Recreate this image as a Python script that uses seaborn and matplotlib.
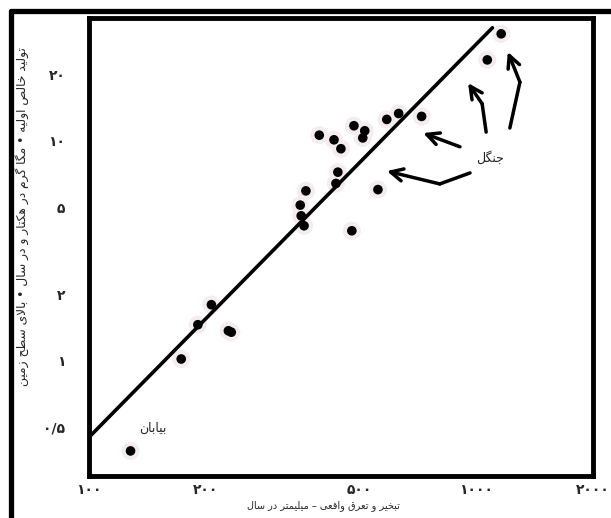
import numpy as np
import pandas as pd
import seaborn as sns
import matplotlib.pyplot as plt
from matplotlib.lines import Line2D
from matplotlib.ticker import NullFormatter

# --- data (log-log) ---
et_mm = [128, 173, 191, 207, 229, 233, 351, 353, 359, 363, 393, 429, 447, 483,
         515, 509, 587, 630, 722, 439, 434, 557, 477, 1067, 1159]
npp = [0.39, 1.02, 1.46, 1.80, 1.37, 1.35, 5.1, 4.56, 4.11, 5.92, 10.6, 10.1, 9.2,
       11.7, 11.1, 10.3, 12.5, 13.3, 12.9, 7.2, 6.4, 6.0, 3.9, 23.3, 30.6]
fit_x = [100, 1100]
fit_y = [0.45, 32.6]

x_ticks = [100, 200, 500, 1000, 2000]
x_labels = ['۱۰۰', '۲۰۰', '۵۰۰', '۱۰۰۰', '۲۰۰۰']
y_ticks = [0.5, 1, 2, 5, 10, 20]
y_labels = ['۰/۵', '۱', '۲', '۵', '۱۰', '۲۰']

x_title = 'تبخیر و تعرق واقعی – میلیمتر در سال'
y_title = 'تولید خالص اولیه • مگا گرم در هکتار و در سال • بالای سطح زمین'
forest_label = 'جنگل'
desert_label = 'بیابان'

# matplotlib has no arabic shaping, so do it by hand with presentation forms
FORMS = {
    'ا': ('\uFE8D', '\uFE8E', None, None),
    'ب': ('\uFE8F', '\uFE90', '\uFE91', '\uFE92'),
    'ت': ('\uFE95', '\uFE96', '\uFE97', '\uFE98'),
    'ج': ('\uFE9D', '\uFE9E', '\uFE9F', '\uFEA0'),
    'ح': ('\uFEA1', '\uFEA2', '\uFEA3', '\uFEA4'),
    'خ': ('\uFEA5', '\uFEA6', '\uFEA7', '\uFEA8'),
    'د': ('\uFEA9', '\uFEAA', None, None),
    'ر': ('\uFEAD', '\uFEAE', None, None),
    'ز': ('\uFEAF', '\uFEB0', None, None),
    'س': ('\uFEB1', '\uFEB2', '\uFEB3', '\uFEB4'),
    'ص': ('\uFEB9', '\uFEBA', '\uFEBB', '\uFEBC'),
    'ط': ('\uFEC1', '\uFEC2', '\uFEC3', '\uFEC4'),
    'ع': ('\uFEC9', '\uFECA', '\uFECB', '\uFECC'),
    'ق': ('\uFED5', '\uFED6', '\uFED7', '\uFED8'),
    'ک': ('\uFB8E', '\uFB8F', '\uFB90', '\uFB91'),
    'گ': ('\uFB92', '\uFB93', '\uFB94', '\uFB95'),
    'ل': ('\uFEDD', '\uFEDE', '\uFEDF', '\uFEE0'),
    'م': ('\uFEE1', '\uFEE2', '\uFEE3', '\uFEE4'),
    'ن': ('\uFEE5', '\uFEE6', '\uFEE7', '\uFEE8'),
    'ه': ('\uFEE9', '\uFEEA', '\uFEEB', '\uFEEC'),
    'و': ('\uFEED', '\uFEEE', None, None),
    'ی': ('\uFBFC', '\uFBFD', '\uFBFE', '\uFBFF'),
}


def shape(text):
    out = []
    i = 0
    n = len(text)
    while i < n:
        c = text[i]
        if c not in FORMS:
            out.append(c)
            i += 1
            continue
        prev = text[i - 1] if i > 0 else ''
        joins_prev = prev in FORMS and FORMS[prev][2] is not None
        if c == 'ل' and i + 1 < n and text[i + 1] == 'ا':
            out.append('\uFEFC' if joins_prev else '\uFEFB')
            i += 2
            continue
        nxt = text[i + 1] if i + 1 < n else ''
        joins_next = nxt in FORMS and FORMS[c][2] is not None
        iso, fin, ini, med = FORMS[c]
        if joins_prev and joins_next:
            out.append(med)
        elif joins_prev:
            out.append(fin)
        elif joins_next:
            out.append(ini)
        else:
            out.append(iso)
        i += 1
    return ''.join(reversed(out))


sns.set_style('white')
plt.rcParams['font.family'] = ['DejaVu Sans']

W, H = 611, 518
fig = plt.figure(figsize=(W / 100, H / 100), dpi=100)
ax = fig.add_axes([89 / W, 1 - 476 / H, (593 - 89) / W, (476 - 17.5) / H])

df = pd.DataFrame({'et': et_mm, 'npp': npp})
sns.scatterplot(data=df, x='et', y='npp', s=170, color='#f5ecf0', edgecolor='none',
                ax=ax, zorder=2)
sns.scatterplot(data=df, x='et', y='npp', s=48, color='black', edgecolor='none',
                ax=ax, zorder=4)
sns.lineplot(x=fit_x, y=fit_y, color='black', lw=2.6, ax=ax, zorder=3)

ax.set_xscale('log')
ax.set_yscale('log')
ax.set_xlim(100, 2000)
ax.set_ylim(0.30, 36.3)
ax.set_xticks(x_ticks, x_labels)
ax.set_yticks(y_ticks, y_labels)
ax.xaxis.set_minor_formatter(NullFormatter())
ax.yaxis.set_minor_formatter(NullFormatter())
ax.tick_params(axis='x', which='both', direction='in', color='#cfcfcf', width=2,
               length=6, pad=5, labelsize=10)
ax.tick_params(axis='y', which='both', direction='in', color='#e0cbd4', width=2,
               length=6, pad=17, labelsize=10)
for t in ax.get_xticklabels() + ax.get_yticklabels():
    t.set_fontweight('bold')
ax.set_xlabel('')
ax.set_ylabel('')
for s in ax.spines.values():
    s.set_linewidth(3.5)
    s.set_color('black')

# hand drawn arrows pointing at the forest points
arrows = [
    [(0.756, 0.661), (0.696, 0.637), (0.591, 0.665)],
    [(0.736, 0.718), (0.663, 0.748)],
    [(0.788, 0.750), (0.780, 0.812), (0.752, 0.857)],
    [(0.835, 0.759), (0.855, 0.859), (0.831, 0.925)],
]
for pts in arrows:
    xs = [p[0] for p in pts[:-1]]
    ys = [p[1] for p in pts[:-1]]
    if len(xs) > 1:
        ax.plot(xs, ys, color='black', lw=2.5, transform=ax.transAxes,
                solid_capstyle='round')
    ax.annotate('', xy=pts[-1], xytext=pts[-2], xycoords='axes fraction',
                arrowprops=dict(arrowstyle='->', lw=2.5, color='black',
                                mutation_scale=22, shrinkA=0, shrinkB=0))

ax.text(0.796, 0.694, shape(forest_label), transform=ax.transAxes, fontsize=9,
        ha='center', va='center')
ax.text(0.127, 0.105, shape(desert_label), transform=ax.transAxes, fontsize=9,
        ha='center', va='center')

fig.text(323 / W, 1 - 506 / H, shape(x_title), fontsize=7, ha='center',
         va='center')
fig.text(22 / W, 1 - 217 / H, shape(y_title), fontsize=8.8, ha='center',
         va='center', rotation=90)

# outer scanned frame
fig.add_artist(Line2D([10.5 / W, 10.5 / W], [0, 1 - 11 / H], color='black', lw=3.8,
                      transform=fig.transFigure))
fig.add_artist(Line2D([10.5 / W, 1], [1 - 11 / H, 1 - 11 / H], color='black', lw=3.8,
                      transform=fig.transFigure))

fig.savefig('out.png', dpi=100)
